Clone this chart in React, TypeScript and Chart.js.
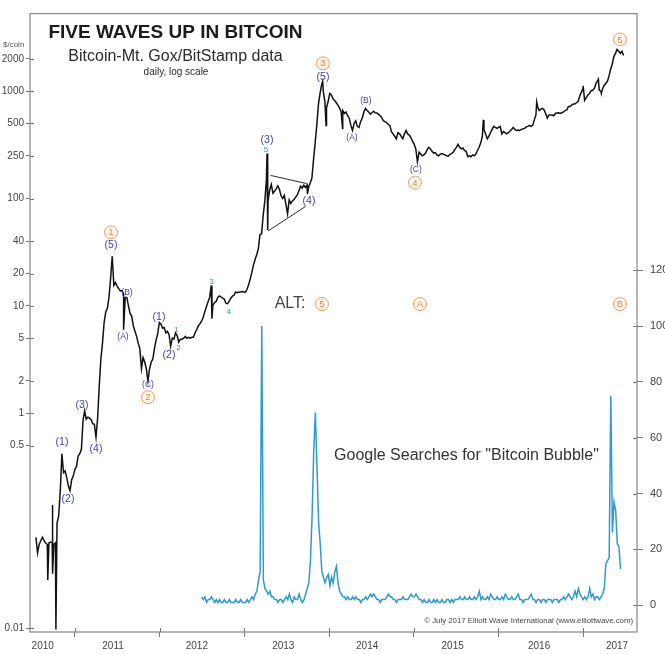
import React, { useEffect, useRef } from 'react';
import { Chart, registerables } from 'chart.js';

Chart.register(...registerables);

const FONT = '"Liberation Sans", Arial, Helvetica, sans-serif';

// Bitcoin price, weekly, in $/coin. First week: 17 Jul 2010.
const PRICE_START = 2010.54;
const WEEK = 7 / 365.25;
const weeklyPrice = [
  // 2010
  0.07, 0.05, 0.06, 0.065, 0.07, 0.065, 0.062, 0.06, 0.062, 0.063,
  0.062, 0.06, 0.062, 0.095, 0.11, 0.19, 0.42, 0.28, 0.29, 0.25,
  0.21, 0.19, 0.24, 0.26,
  // 2011
  0.30, 0.32, 0.40, 0.42, 0.46, 0.85, 1.05, 0.88, 0.92, 0.90,
  0.87, 0.80, 0.79, 0.60, 0.9, 1.8, 3.2, 4.5, 7.0, 8.8,
  9.5, 12, 18, 29, 15.5, 16.5, 15.3, 14.5, 13.8, 13.9,
  13, 12, 12, 10, 8.5, 8, 6.5, 5.8, 5.2, 4.5,
  4, 2.6, 3.3, 3, 2.6, 2.0, 2.6, 3, 3.2, 4,
  4.8, 5.5,
  // 2012
  7.0, 6.8, 6.2, 6.3, 5.6, 5.8, 5.4, 4.2, 5.0, 4.9,
  5.6, 5.3, 4.6, 4.9, 4.9, 5.0, 5.2, 5.0, 5.1, 5.0,
  5.1, 5.1, 5.6, 6.0, 6.5, 6.8, 7.2, 7.8, 8.8, 9.8,
  10.9, 12, 15.5, 10.2, 10.7, 11.0, 12.0, 12.4, 12.1, 11.8,
  11.6, 10.6, 10.5, 11.0, 11.8, 12.3, 12.6, 13.5, 13.3, 13.4,
  13.5, 13.6,
  // 2013
  13.5, 13.4, 14.2, 15.7, 17.8, 20.5, 24, 27, 30, 34,
  46, 47, 70, 95, 150, 95, 120, 135, 112, 117,
  123, 131, 122, 106, 100, 107, 88, 72, 97, 90,
  95, 98, 103, 108, 118, 130, 125, 133, 127, 133,
  128, 140, 155, 230, 330, 480, 750, 950, 1150, 1000,
  800, 700,
  // 2014 - 2017
  800, 950, 920, 850, 820, 780, 740, 700, 640, 660,
  620, 640, 590, 560, 480, 430, 500, 530, 470, 460,
  520, 560, 640, 690, 660, 640, 610, 630, 650, 630,
  625, 610, 590, 570, 530, 520, 510, 490, 480, 420,
  400, 380, 360, 410, 400, 380, 360, 400, 430, 400,
  390, 370, 340, 320, 290, 220, 270, 260, 250, 255,
  265, 285, 300, 290, 275, 265, 268, 255, 250, 258,
  262, 258, 255, 250, 248, 258, 262, 270, 285, 300,
  320, 300, 290, 295, 280, 275, 245, 250, 245, 255,
  250, 260, 280, 300, 330, 380, 440, 400, 360, 380,
  410, 440, 470, 460, 450, 460, 470, 400, 420, 410,
  400, 410, 425, 440, 460, 440, 430, 435, 430, 440,
  445, 450, 465, 470, 480, 470, 480, 540, 600, 720,
  660, 680, 690, 670, 620, 560, 600, 600, 600, 590,
  620, 625, 630, 620, 630, 640, 660, 670, 720, 720,
  740, 760, 760, 780, 800, 900, 980, 1060, 820, 870,
  920, 950, 1010, 1020, 1060, 1180, 1250, 1020, 1000, 1050,
  1130, 1180, 1230, 1380, 1600, 1780, 2100, 2250, 2450, 2350,
  2250, 2350, 2150,
];

// Intraweek highs and lows (decimal year, $/coin)
const spikeDates = [
  2010.68, 2010.735, 2010.738, 2010.776, 2011.575, 2012.618, 2013.268, 2013.276,
  2013.745, 2013.925, 2013.965, 2014.16, 2015.822, 2016.452, 2017.0, 2017.18, 2017.215,
];
const spikeValues = [
  0.028, 0.14, 0.032, 0.0097, 6.0, 7.6, 262, 51,
  110, 1230, 480, 450, 540, 790, 1120, 1290, 950,
];

// Weekly Google search interest for "Bitcoin Bubble", first week early Jul 2012
const SEARCH_START = 2012.497;
const googleSearches = [
  3, 2, 3, 1, 2, 2, 3, 2, 1, 2, 1, 2, 1, 1, 2, 1, 1, 2, 1, 1,
  1, 2, 1, 1, 2, 1, 1, 1, 2, 1, 2, 3, 2, 4,
  5, 9, 12, 100, 9, 6, 5, 4, 5, 3, 3, 2,
  2, 1, 2, 2, 1, 2, 3, 2, 4, 2, 1, 3, 2, 2, 4, 2, 1, 2,
  4, 6, 8, 16, 32, 55, 69, 50, 30, 22, 12, 10, 8, 10, 11, 7, 10, 8, 12, 14, 8, 5, 4, 3,
  3, 2, 3, 2, 2, 3, 2, 3, 2, 2,
  1, 2, 2, 3, 2, 3, 4, 3, 4, 3,
  2, 2, 1, 2, 2, 2, 3, 4, 3, 3,
  2, 2, 1, 2, 2, 2, 3, 2, 2, 2,
  3, 4, 3, 3, 4, 3, 2, 2, 1, 2,
  1, 1, 2, 1, 1, 2, 1, 2, 1, 1,
  2, 1, 1, 2, 2, 1, 2, 1, 2, 2,
  2, 3, 2, 2, 3, 2, 2, 3, 2, 2,
  3, 2, 3, 5, 2, 3, 2, 2, 3, 2,
  4, 3, 2, 2, 3, 2, 2, 3, 2, 4,
  3, 2, 2, 3, 2, 2, 3, 4, 2, 2,
  1, 2, 2, 2, 3, 4, 2, 2, 1, 2,
  2, 1, 2, 2, 1, 2, 2, 2, 1, 2,
  2, 2, 1, 2, 2, 3, 2, 3, 4, 3,
  2, 3, 5, 3, 6, 4, 3, 2, 3, 2,
  3, 6, 3, 4, 2, 3, 3, 2, 3,
  4, 6, 15, 16, 17, 75, 26, 37, 34, 22, 21, 13,
];

const priceTicks = [0.01, 0.5, 1, 2, 5, 10, 20, 40, 100, 250, 500, 1000, 2000];
const searchTicks = [0, 20, 40, 60, 80, 100, 120];
const yearBoundaries = [2011, 2012, 2013, 2014, 2015, 2016, 2017];
const yearLabels = ['2010', '2011', '2012', '2013', '2014', '2015', '2016', '2017'];
const yearLabelAt = [2010.62, 2011.45, 2012.44, 2013.46, 2014.45, 2015.46, 2016.48, 2017.4];

// Elliott wave labels: [text, decimal year, price]
const waveText = ['(1)', '(2)', '(3)', '(4)', '(5)', '(A)', '(B)', '(C)', '(1)', '(2)', '(3)', '(4)', '(5)', '(A)', '(B)', '(C)'];
const waveDates = [2010.848, 2010.919, 2011.084, 2011.249, 2011.426, 2011.568, 2011.615, 2011.863, 2011.993, 2012.111, 2013.268, 2013.764, 2013.929, 2014.271, 2014.436, 2015.026];
const waveValues = [0.539, 0.16, 1.186, 0.464, 36.7, 5.17, 13.2, 1.856, 7.91, 3.45, 352, 93.8, 1349, 367, 808, 186];

const minorText = ['1', '2', '3', '4', '5'];
const minorDates = [2012.2, 2012.223, 2012.613, 2012.82, 2013.257];
const minorValues = [5.93, 4.04, 16.7, 8.8, 284];

const cycleText = ['1', '2', '3', '4', '5'];
const cycleDates = [2011.426, 2011.863, 2013.929, 2015.015, 2017.435];
const cycleValues = [48.4, 1.41, 1816, 140.7, 3030];

const altText = ['5', 'A', 'B'];
const altDates = [2013.917, 2015.074, 2017.435];
const ALT_LEVEL = 10.4;

const triangleTopDates = [2013.312, 2013.737];
const triangleTopValues = [164, 137.7];
const triangleBottomDates = [2013.283, 2013.722];
const triangleBottomValues = [50, 84.3];

function buildPriceData() {
  const pts = weeklyPrice.map((v, i) => ({ x: PRICE_START + i * WEEK, y: v }));
  spikeDates.forEach((t, i) => pts.push({ x: t, y: spikeValues[i] }));
  return pts.sort((a, b) => a.x - b.x);
}

function buildSearchData() {
  return googleSearches.map((v, i) => ({ x: SEARCH_START + i * WEEK, y: v }));
}

const overlayPlugin = {
  id: 'waveOverlay',
  afterDatasetsDraw(chart: any) {
    const { ctx } = chart;
    const xs = chart.scales.x;
    const ys = chart.scales.y;
    const px = (t: number) => xs.getPixelForValue(t);
    const py = (v: number) => ys.getPixelForValue(v);
    ctx.save();

    // triangle boundaries
    ctx.strokeStyle = '#2a2a2a';
    ctx.lineWidth = 1;
    ctx.beginPath();
    ctx.moveTo(px(triangleTopDates[0]), py(triangleTopValues[0]));
    ctx.lineTo(px(triangleTopDates[1]), py(triangleTopValues[1]));
    ctx.moveTo(px(triangleBottomDates[0]), py(triangleBottomValues[0]));
    ctx.lineTo(px(triangleBottomDates[1]), py(triangleBottomValues[1]));
    ctx.stroke();

    ctx.textAlign = 'center';
    ctx.textBaseline = 'middle';

    // intermediate degree
    ctx.fillStyle = '#3d3db8';
    waveText.forEach((s, i) => {
      const small = /[ABC]/.test(s);
      ctx.font = `${small ? 8.5 : 10.5}px ${FONT}`;
      ctx.fillText(s, px(waveDates[i]), py(waveValues[i]));
    });

    // minor degree
    ctx.fillStyle = '#3a9c74';
    ctx.font = `8px ${FONT}`;
    minorText.forEach((s, i) => ctx.fillText(s, px(minorDates[i]), py(minorValues[i])));

    const circled = (s: string, x: number, y: number) => {
      ctx.beginPath();
      ctx.arc(x, y, 6.5, 0, Math.PI * 2);
      ctx.fillStyle = '#fff5ec';
      ctx.fill();
      ctx.strokeStyle = '#ec9c5d';
      ctx.lineWidth = 1;
      ctx.stroke();
      ctx.fillStyle = '#e5873f';
      ctx.font = `9.5px ${FONT}`;
      ctx.fillText(s, x, y + 0.5);
    };
    cycleText.forEach((s, i) => circled(s, px(cycleDates[i]), py(cycleValues[i])));
    altText.forEach((s, i) => circled(s, px(altDates[i]), py(ALT_LEVEL)));

    ctx.fillStyle = '#444';
    ctx.font = `16px ${FONT}`;
    ctx.fillText('ALT:', px(2013.54), py(ALT_LEVEL));

    ctx.restore();
  },
  afterDraw(chart: any) {
    const { ctx, chartArea } = chart;
    const { left, right, top, bottom } = chartArea;
    const xs = chart.scales.x;
    const ys = chart.scales.y;
    const ys2 = chart.scales.y2;
    ctx.save();

    // frame
    ctx.strokeStyle = '#8e8e8e';
    ctx.lineWidth = 1.3;
    ctx.strokeRect(left, top, right - left, bottom - top);

    // inner halves of the tick marks
    ctx.strokeStyle = '#777';
    ctx.lineWidth = 1;
    ctx.beginPath();
    yearBoundaries.forEach((t) => {
      const x = Math.round(xs.getPixelForValue(t)) + 0.5;
      ctx.moveTo(x, bottom);
      ctx.lineTo(x, bottom - 4);
    });
    priceTicks.forEach((v) => {
      const y = Math.round(ys.getPixelForValue(v)) + 0.5;
      ctx.moveTo(left, y);
      ctx.lineTo(left + 4, y);
    });
    searchTicks.forEach((v) => {
      const y = Math.round(ys2.getPixelForValue(v)) + 0.5;
      ctx.moveTo(right, y);
      ctx.lineTo(right - 4, y);
    });
    ctx.stroke();

    // headings
    ctx.textAlign = 'center';
    ctx.textBaseline = 'middle';
    ctx.fillStyle = '#1b1b1b';
    ctx.font = `bold 19px ${FONT}`;
    ctx.fillText('FIVE WAVES UP IN BITCOIN', 175.5, 33);
    ctx.fillStyle = '#2a2a2a';
    ctx.font = `16px ${FONT}`;
    ctx.fillText('Bitcoin-Mt. Gox/BitStamp data', 175.5, 57);
    ctx.font = `10px ${FONT}`;
    ctx.fillText('daily, log scale', 176, 72);

    ctx.fillStyle = '#333';
    ctx.font = `16px ${FONT}`;
    ctx.fillText('Google Searches for "Bitcoin Bubble"', 466.5, 456);

    ctx.textAlign = 'left';
    ctx.fillStyle = '#555';
    ctx.font = `8px ${FONT}`;
    ctx.fillText('$/coin', 3, 45);

    ctx.textAlign = 'right';
    ctx.fillStyle = '#444';
    ctx.font = `7.8px ${FONT}`;
    ctx.fillText('\u00A9 July 2017 Elliott Wave International (www.elliottwave.com)', 633, 621);

    ctx.restore();
  },
};

export default function App() {
  const canvasRef = useRef<HTMLCanvasElement | null>(null);

  useEffect(() => {
    if (!canvasRef.current) return;
    const tickFont = { family: FONT, size: 10 };
    const chart = new Chart(canvasRef.current, {
      type: 'line',
      data: {
        datasets: [
          {
            label: 'Bitcoin',
            data: buildPriceData(),
            xAxisID: 'x',
            yAxisID: 'y',
            borderColor: '#111',
            borderWidth: 1.5,
            pointRadius: 0,
            tension: 0,
            fill: false,
          },
          {
            label: 'Google Searches for "Bitcoin Bubble"',
            data: buildSearchData(),
            xAxisID: 'x',
            yAxisID: 'y2',
            borderColor: '#2e9ad2',
            borderWidth: 1.5,
            pointRadius: 0,
            tension: 0,
            fill: false,
          },
        ],
      },
      options: {
        animation: false,
        responsive: false,
        maintainAspectRatio: false,
        layout: { padding: { top: 10, left: 0, right: 0, bottom: 0 } },
        plugins: {
          legend: { display: false },
          tooltip: { enabled: false },
          title: { display: false },
        },
        elements: { point: { radius: 0 } },
        scales: {
          x: {
            type: 'linear',
            position: 'bottom',
            min: 2010.47,
            max: 2017.636,
            afterBuildTicks: (s: any) => {
              const vals = [...yearBoundaries, ...yearLabelAt].sort((a, b) => a - b);
              s.ticks = vals.map((v) => ({ value: v }));
            },
            afterFit: (s: any) => {
              s.height = 22;
            },
            border: { display: false },
            grid: {
              drawOnChartArea: false,
              drawTicks: true,
              tickLength: 5,
              tickColor: (c: any) =>
                c.tick && Number.isInteger(c.tick.value) ? '#777' : 'rgba(0,0,0,0)',
            },
            ticks: {
              autoSkip: false,
              maxRotation: 0,
              padding: 3,
              color: '#444',
              font: tickFont,
              callback: (v: any) => {
                const i = yearLabelAt.indexOf(Number(v));
                return i >= 0 ? yearLabels[i] : '';
              },
            },
          },
          y: {
            type: 'logarithmic',
            position: 'left',
            min: 0.00918,
            max: 5276,
            afterBuildTicks: (s: any) => {
              s.ticks = priceTicks.map((v) => ({ value: v }));
            },
            afterFit: (s: any) => {
              s.width = 30;
            },
            border: { display: false },
            grid: { drawOnChartArea: false, tickLength: 4, tickColor: '#777' },
            ticks: {
              autoSkip: false,
              padding: 2,
              color: '#444',
              font: tickFont,
              callback: (v: any) => String(v),
            },
          },
          y2: {
            type: 'linear',
            position: 'right',
            min: -9.6,
            max: 211.9,
            afterBuildTicks: (s: any) => {
              s.ticks = searchTicks.map((v) => ({ value: v }));
            },
            afterFit: (s: any) => {
              s.width = 28;
            },
            border: { display: false },
            grid: { drawOnChartArea: false, tickLength: 6, tickColor: '#777' },
            ticks: {
              autoSkip: false,
              padding: 7,
              color: '#444',
              font: { family: FONT, size: 11 },
              callback: (v: any) => String(v),
            },
          },
        },
      },
      plugins: [overlayPlugin],
    } as any);
    return () => chart.destroy();
  }, []);

  return (
    <div style={{ position: 'absolute', left: 0, top: 0, width: 665, height: 654, background: '#fff' }}>
      <canvas ref={canvasRef} width={665} height={654} style={{ display: 'block' }} />
    </div>
  );
}
